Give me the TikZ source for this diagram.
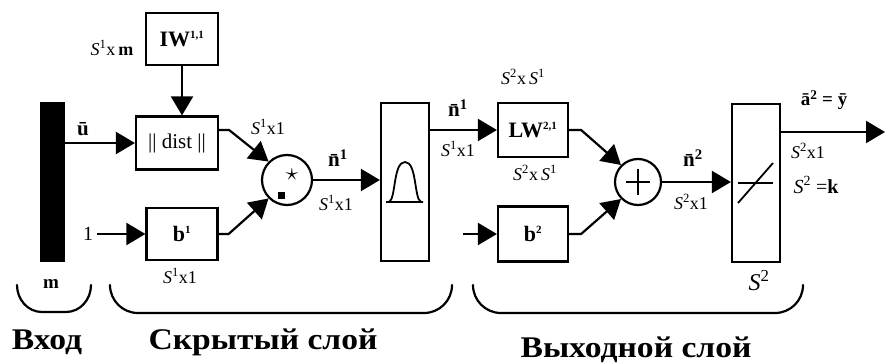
\documentclass[tikz,border=0pt]{standalone}
\usepackage{fontspec}
\setmainfont{Liberation Serif}
\newfontfamily\widefont[FakeStretch=1.12]{Liberation Serif}
\usetikzlibrary{arrows.meta,positioning}

\begin{document}
\begin{tikzpicture}[x=1pt, y=-1pt,
    blk/.style={draw, line width=2.2pt, inner sep=0pt, font=\fontsize{22}{24}\selectfont\bfseries},
    tfbox/.style={draw, line width=2.2pt, inner sep=0pt, minimum width=48pt, minimum height=158pt},
    wire/.style={line width=2.2pt},
    arr/.style={line width=2.2pt, -{Triangle[length=19pt,width=22pt]}},
    sizelbl/.style={font=\fontsize{18}{19}\selectfont, inner sep=0pt},
    sig/.style={font=\fontsize{21}{22}\selectfont\bfseries, inner sep=0pt},
    brc/.style={line width=2.2pt, line cap=round},
    layername/.style={font=\widefont\fontsize{30}{33}\selectfont\bfseries, inner sep=0pt, anchor=base}]

    % Рамка
    \useasboundingbox (0,0) rectangle (893,363);

    % Вход
    \node[fill=black, minimum width=25pt, minimum height=159pt, inner sep=0pt] (inp) at (52,182) {};
    \node[sig] (u) at (83,129) {ū};
    \node[sig, font=\fontsize{20}{22}\selectfont] (one) at (88,234) {1};
    \node[sizelbl, font=\fontsize{19}{20}\selectfont\bfseries] (m) at (51,284) {m};

    % Скрытый слой
    \node[blk, minimum width=72pt, minimum height=52pt] (iw) at (182,39) {IW\textsuperscript{\fontsize{11}{12}\selectfont 1,1}};
    \node[blk, font=\fontsize{21}{22}\selectfont, minimum width=82pt, minimum height=53pt] (dist) at (177,143) {|| dist ||};
    \node[blk, minimum width=71pt, minimum height=52pt] (b1) at (182,234) {b\textsuperscript{\fontsize{11}{12}\selectfont 1}};
    \node[draw, circle, line width=2.2pt, minimum size=50pt, inner sep=0pt] (mult) at (287,180) {};
    \node[inner sep=0pt, font=\fontsize{26}{26}\selectfont] (star) at (292,175) {$\star$};
    \node[fill=black, minimum size=7pt, inner sep=0pt] (dot) at (281,196) {};
    \node[tfbox] (radbas) at (405,182) {};

    % Выходной слой
    \node[blk, minimum width=70pt, minimum height=54pt] (lw) at (533,130) {LW\textsuperscript{\fontsize{11}{12}\selectfont 2,1}};
    \node[blk, minimum width=70pt, minimum height=55pt] (b2) at (533,234) {b\textsuperscript{\fontsize{11}{12}\selectfont 2}};
    \coordinate (b2in) at (463,234);
    \node[draw, circle, line width=2.2pt, minimum size=46pt, inner sep=0pt] (sum) at (638,182) {};
    \node[tfbox] (purelin) at (756,183) {};
    \coordinate (out) at (885,132);

    % Символы внутри
    \draw[line width=1.8pt] (sum.center) ++(-12,0) -- ++(24,0);
    \draw[line width=1.8pt] (sum.center) ++(0,-13) -- ++(0,26);
    \draw[line width=1.8pt] (386,202) -- (423,202)
        (389,202) .. controls (396,199) and (393,162) .. (405,162)
        .. controls (417,162) and (414,199) .. (421,202);
    \draw[line width=1.8pt] (738,183) -- (773,183);
    \draw[line width=1.8pt] (738,203) -- (773,163);

    % Связи
    \draw[arr] (inp.east |- dist.west) -- (dist.west);
    \draw[arr] (iw.south) -- (iw.south |- dist.north);
    \draw[arr] ([yshift=13pt]dist.east) -- ++(10,0) -- (mult.north west);
    \draw[arr, shorten <=4pt] (one.east) -- (b1.west);
    \draw[arr] (b1.east) -- ++(10,0) -- (mult.south west);
    \draw[arr] (mult.east) -- (mult.east -| radbas.west);
    \draw[arr] (radbas.east |- lw.west) -- (lw.west);
    \draw[arr] (b2in) -- (b2.west);
    \draw[arr] (lw.east) -- ++(12,0) -- (sum.north west);
    \draw[arr] (b2.east) -- ++(12,0) -- (sum.south west);
    \draw[arr] (sum.east) -- (sum.east -| purelin.west);
    \draw[arr] (purelin.east |- out) -- (out);

    % Размерности
    \node[sizelbl] (iwdim) at (112,48) {\textit{S}\textsuperscript{1}x\,\textbf{m}};
    \node[sizelbl] (distdim) at (268,127) {\textit{S}\textsuperscript{1}x1};
    \node[sizelbl] (b1dim) at (180,276) {\textit{S}\textsuperscript{1}x1};
    \node[sig] (n1a) at (338,158) {n\char"0304\textsuperscript{1}};
    \node[sizelbl] (n1adim) at (336,203) {\textit{S}\textsuperscript{1}x1};
    \node[sig] (n1b) at (458,108) {n\char"0304\textsuperscript{1}};
    \node[sizelbl] (n1bdim) at (458,149) {\textit{S}\textsuperscript{1}x1};
    \node[sizelbl] (lwdim1) at (523,77) {\textit{S}\textsuperscript{2}x\,\textit{S}\textsuperscript{1}};
    \node[sizelbl] (lwdim2) at (535,173) {\textit{S}\textsuperscript{2}x\,\textit{S}\textsuperscript{1}};
    \node[sig] (n2) at (693,158) {n\char"0304\textsuperscript{2}};
    \node[sizelbl] (n2dim) at (691,202) {\textit{S}\textsuperscript{2}x1};
    \node[sig, font=\fontsize{19}{20}\selectfont\bfseries] (a2) at (824,100) {ā\textsuperscript{2} = ȳ};
    \node[sizelbl] (a2dim) at (808,151) {\textit{S}\textsuperscript{2}x1};
    \node[sizelbl, font=\fontsize{20}{21}\selectfont] (s2k) at (816,185) {\textit{S}\textsuperscript{2} =\textbf{k}};
    \node[sizelbl, font=\fontsize{24}{26}\selectfont] (s2) at (759,281) {\textit{S}\textsuperscript{2}};

    % Скобки
    \draw[brc] (17,285) to[out=-90, in=180] (42,312) -- (66,312) to[out=0, in=-90] (91,285);
    \draw[brc] (110,285) to[out=-90, in=180] (138,313) -- (424,313) to[out=0, in=-90] (452,285);
    \draw[brc] (473,285) to[out=-90, in=180] (501,313) -- (775,313) to[out=0, in=-90] (803,285);

    % Подписи слоёв
    \node[layername] (vhod) at (47,349) {Вход};
    \node[layername] (hidden) at (263,349) {Скрытый слой};
    \node[layername] (output) at (636,357) {Выходной слой};

\end{tikzpicture}
\end{document}
